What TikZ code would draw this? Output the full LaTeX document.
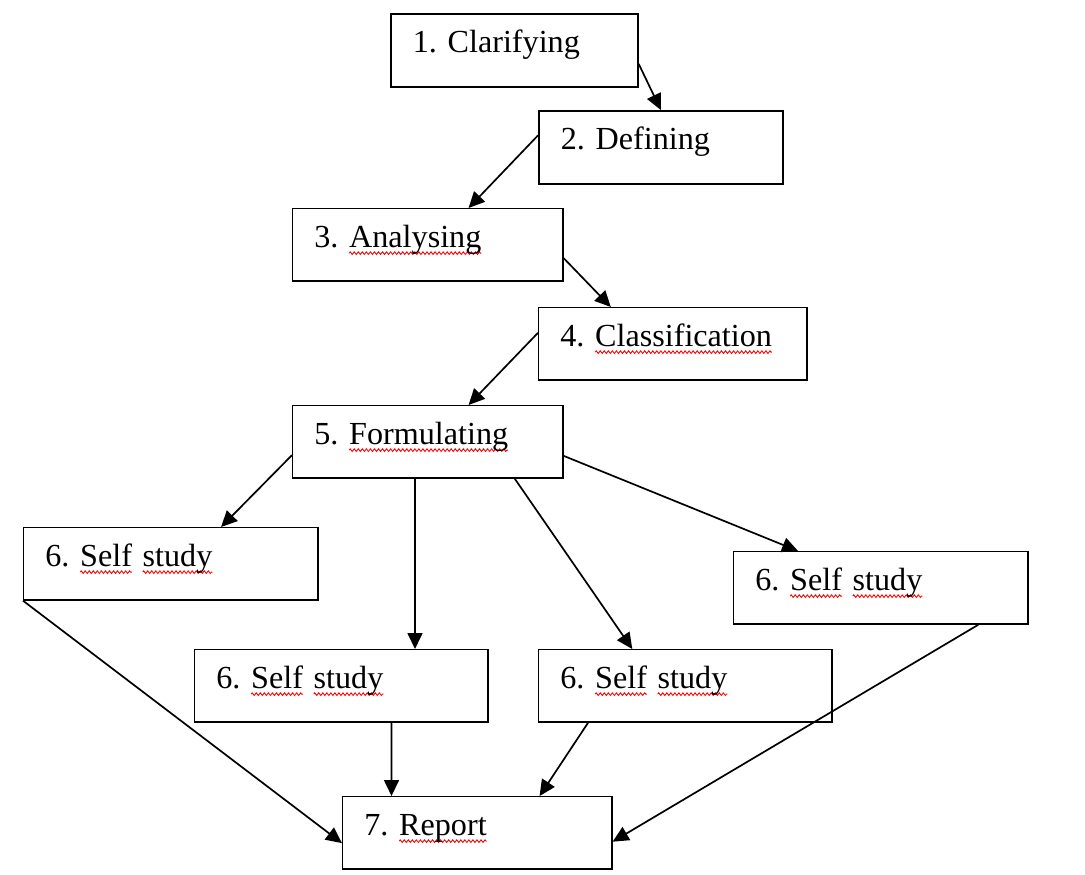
\documentclass[tikz,border=0pt]{standalone}
\usepackage{fontspec}
\setmainfont{Liberation Serif}
\usepackage{xcolor}
\usepackage{tikz}
\usetikzlibrary{calc}
\usetikzlibrary{arrows.meta}
\usetikzlibrary{decorations.pathmorphing}

% red wavy mark under a word
\newsavebox{\wordbox}
\newcommand{\spellmark}[1]{\sbox{\wordbox}{#1}\rlap{\tikz[overlay,baseline=0pt]
  \draw [red,line width=0.5pt,decorate,decoration={zigzag,amplitude=0.75pt,segment length=2.3pt}]
  (0pt,-3.3pt) -- (\the\wd\wordbox,-3.3pt);}\usebox{\wordbox}}

\begin{document}
\begin{tikzpicture}[x=0.02cm,y=-0.02cm,line width=0.034cm,
  stage/.style={draw,anchor=north west,align=left,inner xsep=0.44cm,inner ysep=0pt,
    text height=0.78cm,text depth=0.68cm,font=\fontsize{18.3}{22}\selectfont\frenchspacing},
  flow/.style={-{Triangle[length=0.32cm,width=0.3cm]}}]
{
\useasboundingbox (0,0) rectangle (1085,875);

% Drawing boxes
\node [stage,text width=4.06cm] (b1) at (390,13) {1. Clarifying};
\node [stage,text width=4.00cm] (b2) at (538,110) {2. Defining};
\node [stage,text width=4.54cm] (b3) at (292,208) {3. \spellmark{Analysing}};
\node [stage,text width=4.50cm] (b4) at (538,307) {4. \spellmark{Classification}};
\node [stage,text width=4.54cm] (b5) at (292,405) {5. \spellmark{Formulating}};
\node [stage,text width=5.02cm] (s1) at (23,527) {6. \spellmark{Self} \spellmark{study}};
\node [stage,text width=5.00cm] (s2) at (194,649) {6. \spellmark{Self} \spellmark{study}};
\node [stage,text width=5.00cm] (s3) at (538,649) {6. \spellmark{Self} \spellmark{study}};
\node [stage,text width=5.02cm] (s4) at (733,551) {6. \spellmark{Self} \spellmark{study}};
\node [stage,text width=4.52cm] (b7) at (342,796) {7. \spellmark{Report}};

% Drawing arrows down the chain
\draw [flow] ($(b1.north east)!0.68!(b1.south east)$) -- (b2.north);
\draw [flow] ($(b2.north west)!0.34!(b2.south west)$) -- ($(b3.north west)!0.65!(b3.north east)$);
\draw [flow] ($(b3.north east)!0.68!(b3.south east)$) -- ($(b4.north west)!0.27!(b4.north east)$);
\draw [flow] ($(b4.north west)!0.35!(b4.south west)$) -- ($(b5.north west)!0.65!(b5.north east)$);

% Drawing arrows to self study
\draw [flow] ($(b5.north west)!0.68!(b5.south west)$) -- ($(s1.north west)!0.67!(s1.north east)$);
\draw [flow] ($(b5.south west)!0.453!(b5.south east)$) -- ($(s2.north west)!0.75!(s2.north east)$);
\draw [flow] ($(b5.south west)!0.82!(b5.south east)$) -- ($(s3.north west)!0.32!(s3.north east)$);
\draw [flow] ($(b5.north east)!0.69!(b5.south east)$) -- ($(s4.north west)!0.22!(s4.north east)$);

% Drawing arrows to report
\draw [flow] (s1.south west) -- ($(b7.north west)!0.64!(b7.south west)$);
\draw [flow] ($(s2.south west)!0.67!(s2.south east)$) -- ($(b7.north west)!0.183!(b7.north east)$);
\draw [flow] ($(s3.south west)!0.17!(s3.south east)$) -- ($(b7.north west)!0.73!(b7.north east)$);
\draw [flow] ($(s4.south west)!0.83!(s4.south east)$) -- ($(b7.north east)!0.62!(b7.south east)$);
}
\end{tikzpicture}
\end{document}
